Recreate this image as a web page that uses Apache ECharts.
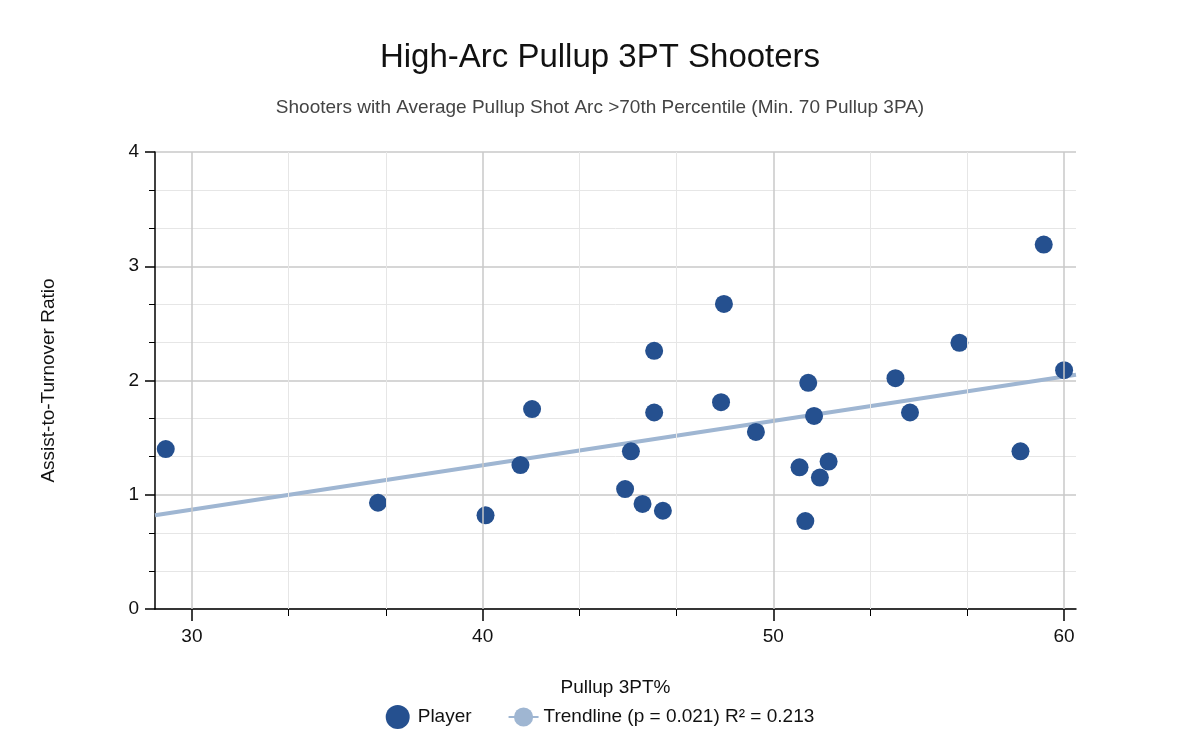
<!DOCTYPE html>
<html><head><meta charset="utf-8">
<script src="https://cdn.jsdelivr.net/npm/echarts@6/dist/echarts.min.js"></script>
<style>html,body{margin:0;background:#fff}#c{width:1200px;height:740px}</style>
</head><body><div id="c"></div>
<script>
// player points: [pullup 3PT%, assist-to-turnover]
var players = [
  [29.1,1.40],[36.4,0.93],[40.1,0.82],[41.3,1.26],[41.7,1.75],[44.9,1.05],
  [45.1,1.38],[45.5,0.92],[45.9,1.72],[45.9,2.26],[46.2,0.86],[48.2,1.81],
  [48.3,2.67],[49.4,1.55],[50.9,1.24],[51.1,0.77],[51.2,1.98],[51.4,1.69],
  [51.6,1.15],[51.9,1.29],[54.2,2.02],[54.7,1.72],[56.4,2.33],[58.5,1.38],
  [59.3,3.19],[60.0,2.09]
];
var trend = [[28.73,0.82],[60.41,2.05]];
var xMajor = [30,40,50,60];
var xMinor = [33.33,36.67,43.33,46.67,53.33,56.67];
var font = 'Liberation Sans';

var chart = echarts.init(document.getElementById('c'));
chart.setOption({
  textStyle:{fontFamily:font},
  title:{text:'High-Arc Pullup 3PT Shooters',subtext:'Shooters with Average Pullup Shot Arc >70th Percentile (Min. 70 Pullup 3PA)',
    left:'center',top:36,itemGap:24,
    textStyle:{fontSize:33,fontWeight:'normal',color:'#111',fontFamily:font},
    subtextStyle:{fontSize:19,color:'#444',fontFamily:font}},
  legend:{bottom:6,left:'center',itemGap:36,textStyle:{fontSize:19,color:'#111'},
    data:[{name:'Player',icon:'circle',itemStyle:{color:'#25508f'}},
          {name:'Trendline (p = 0.021) R\u00b2 = 0.213'}],
    itemWidth:30,itemHeight:24},
  grid:{left:155,right:124,top:152,bottom:131},
  xAxis:[{type:'value',min:28.73,max:60.41,name:'Pullup 3PT%',nameLocation:'middle',nameGap:69,
    nameTextStyle:{fontSize:19,color:'#111'},
    axisLine:{lineStyle:{color:'#000',width:1.5}},
    axisTick:{customValues:xMajor,length:12,lineStyle:{color:'#000',width:1.5}},
    axisLabel:{customValues:xMajor,fontSize:19,color:'#111',margin:18},
    splitLine:{show:false}},
   {type:'value',min:28.73,max:60.41,position:'bottom',
    axisLine:{show:false},axisTick:{customValues:xMinor,length:7,lineStyle:{color:'#000'}},
    axisLabel:{show:false},splitLine:{show:false}}],
  yAxis:{type:'value',min:0,max:4,interval:1,name:'Assist-to-Turnover Ratio',nameLocation:'middle',nameGap:97,
    nameTextStyle:{fontSize:19,color:'#111'},
    axisLine:{show:true,lineStyle:{color:'#000',width:1.5}},
    axisTick:{show:true,length:10,lineStyle:{color:'#000',width:1.5}},
    minorTick:{show:true,splitNumber:3,length:6,lineStyle:{color:'#000'}},
    axisLabel:{fontSize:19,color:'#111',margin:16},
    splitLine:{lineStyle:{color:'#c8c8c8',width:1.5}},
    minorSplitLine:{show:true,lineStyle:{color:'#e6e6e6'}}},
  series:[
    {name:'Trendline (p = 0.021) R\u00b2 = 0.213',type:'line',data:trend,symbol:'none',z:1,
     lineStyle:{color:'#9fb6d2',width:4},itemStyle:{color:'#9fb6d2'},
     markLine:{silent:true,symbol:'none',label:{show:false},
       data:xMajor.map(function(v){return {xAxis:v,lineStyle:{color:'#c8c8c8',width:1.5,type:'solid'}};})
        .concat(xMinor.map(function(v){return {xAxis:v,lineStyle:{color:'#e6e6e6',width:1,type:'solid'}};}))}},
    {name:'Player',type:'scatter',data:players,symbolSize:18,z:3,itemStyle:{color:'#25508f',opacity:1}}
  ]
});
</script></body></html>
